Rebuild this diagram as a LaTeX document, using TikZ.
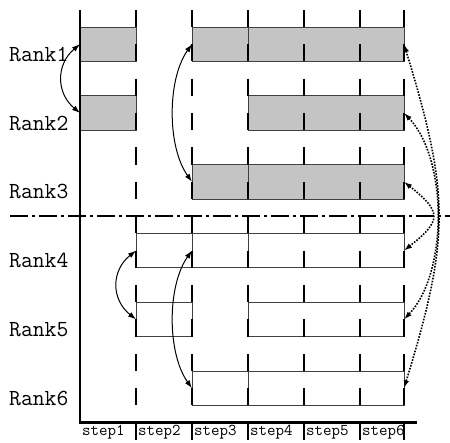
\documentclass[tikz,border=0pt]{standalone}
\usetikzlibrary{arrows.meta}
\begin{document}
\begin{tikzpicture}[x=1pt,y=-1pt,
  bar/.style={draw=black!75, line width=0.8pt},
  shaded/.style={bar, fill=black!23},
  stepline/.style={line width=2.4pt, dash pattern=on 17.2pt off 17.2pt},
  axisline/.style={line width=2.6pt, line join=miter},
  splitline/.style={line width=2.6pt, dash pattern=on 18pt off 4pt on 3pt off 4pt},
  ranklabel/.style={anchor=base west, inner sep=0pt, font=\fontsize{23}{23}\selectfont\ttfamily},
  steplabel/.style={anchor=base west, inner sep=0pt, font=\fontsize{16.5}{16.5}\selectfont\ttfamily},
  swap/.style={{Latex[length=8pt,width=5.5pt]}-{Latex[length=8pt,width=5.5pt]}, line width=1pt},
  relay/.style={swap, dash pattern=on 1.6pt off 1.4pt, line width=1.6pt},
]
\useasboundingbox (0,0) rectangle (450,443);
% bars
\draw[shaded] (80,27) rectangle (136,61.4);
\draw[shaded] (192,27) rectangle (248,61.4);
\draw[shaded] (248,27) rectangle (404,61.4);
\draw[shaded] (80,95.8) rectangle (136,130.2);
\draw[shaded] (248,95.8) rectangle (404,130.2);
\draw[shaded] (192,164.6) rectangle (248,199);
\draw[shaded] (248,164.6) rectangle (404,199);
\draw[bar] (136,233.4) rectangle (192,267.8);
\draw[bar] (192,233.4) rectangle (248,267.8);
\draw[bar] (248,233.4) rectangle (404,267.8);
\draw[bar] (136,302.2) rectangle (192,336.6);
\draw[bar] (248,302.2) rectangle (404,336.6);
\draw[bar] (192,371) rectangle (248,405.4);
\draw[bar] (248,371) rectangle (404,405.4);
% step separators
\foreach \x in {136,192,248,304,360,404} \draw[stepline] (\x,9.8) -- (\x,439.8);
% axes
\draw[axisline] (80,10) -- (80,422.6) -- (417,422.6);
\draw[splitline] (10,216) -- (450,216);
% anchor points
\coordinate (L1) at (80,44.2);
\coordinate (L2) at (80,113);
\coordinate (M1) at (192,44.2);
\coordinate (M3) at (192,181.8);
\coordinate (N4) at (136,250.6);
\coordinate (N5) at (136,319.4);
\coordinate (P4) at (192,250.6);
\coordinate (P6) at (192,388.2);
\coordinate (R1) at (404,44.2);
\coordinate (R2) at (404,113);
\coordinate (R3) at (404,181.8);
\coordinate (R4) at (404,250.6);
\coordinate (R5) at (404,319.4);
\coordinate (R6) at (404,388.2);
% solid exchanges
\draw[swap] (L1) .. controls +(-24,20) and +(-24,-20) .. (L2);
\draw[swap] (M1) .. controls +(-25,35) and +(-25,-35) .. (M3);
\draw[swap] (N4) .. controls +(-25,20) and +(-25,-20) .. (N5);
\draw[swap] (P4) .. controls +(-25,35) and +(-25,-35) .. (P6);
% dotted exchanges
\draw[relay] (R1) .. controls +(46,150) and +(46,-150) .. (R6);
\draw[relay] (R2) .. controls +(44,46) and +(44,-46) .. (R5);
\draw[relay] (R3) .. controls +(38,30) and +(38,-30) .. (R4);
% labels
\node[ranklabel] (lab1) at (9,61.4) {Rank1};
\node[ranklabel] (lab2) at (9,130.2) {Rank2};
\node[ranklabel] (lab3) at (9,199) {Rank3};
\node[ranklabel] (lab4) at (9,267.8) {Rank4};
\node[ranklabel] (lab5) at (9,336.6) {Rank5};
\node[ranklabel] (lab6) at (9,405.4) {Rank6};
\node[steplabel] (s1) at (82,436) {step1};
\node[steplabel] (s2) at (138,436) {step2};
\node[steplabel] (s3) at (194,436) {step3};
\node[steplabel] (s4) at (250,436) {step4};
\node[steplabel] (s5) at (306,436) {step5};
\node[steplabel] (s6) at (362,436) {step6};
\end{tikzpicture}
\end{document}
